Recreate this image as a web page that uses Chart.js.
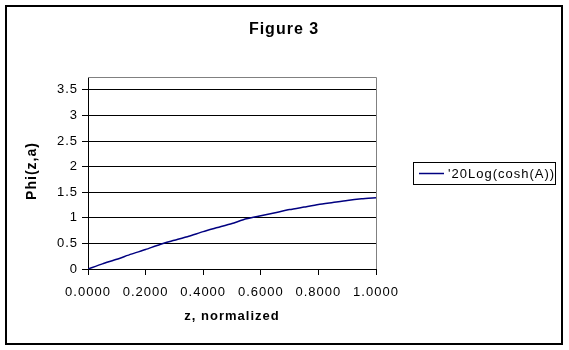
<!DOCTYPE html>
<html>
<head>
<meta charset="utf-8">
<title>Figure 3</title>
<script src="https://cdn.jsdelivr.net/npm/chart.js@4.4.1/dist/chart.umd.min.js"></script>
<style>
  body { margin: 0; background: #fff; }
  canvas { display: block; }
</style>
</head>
<body>
<canvas id="chart" width="569" height="350"></canvas>
<script>
// normalized position along z and the curve Phi(z,a)
const zValues = [0, 0.05, 0.10, 0.15, 0.20, 0.25, 0.30, 0.35, 0.40, 0.45, 0.50,
                 0.55, 0.60, 0.65, 0.70, 0.75, 0.80, 0.85, 0.90, 0.95, 1.00];
const phiValues = [0, 0.10, 0.19, 0.29, 0.38, 0.48, 0.56, 0.64, 0.73, 0.81, 0.89,
                   0.98, 1.04, 1.10, 1.16, 1.21, 1.26, 1.30, 1.34, 1.37, 1.39];
const yTicks = [0, 0.5, 1, 1.5, 2, 2.5, 3, 3.5];
const seriesName = "'20Log(cosh(A))";
const chartTitle = "Figure 3";
const xTitle = "z, normalized";
const yTitle = "Phi(z,a)";

const lineColor = "#000080";
const font = "Liberation Sans, Arial, sans-serif";

let points = zValues.map((z, i) => ({ x: z, y: phiValues[i] }));

// frame, titles, plot border and legend box
const decorations = {
    id: "decorations",
    beforeDraw(chart) {
        let ctx = chart.ctx;
        ctx.fillStyle = "#fff";
        ctx.fillRect(0, 0, chart.width, chart.height);
        ctx.letterSpacing = "1px";
    },
    afterDraw(chart) {
        let ctx = chart.ctx;
        let area = chart.chartArea;
        ctx.save();

        // gray plot area border on top and right
        ctx.strokeStyle = "#808080";
        ctx.lineWidth = 1;
        ctx.beginPath();
        ctx.moveTo(area.left, Math.round(area.top) + 0.5);
        ctx.lineTo(Math.round(area.right) + 0.5, Math.round(area.top) + 0.5);
        ctx.lineTo(Math.round(area.right) + 0.5, area.bottom);
        ctx.stroke();

        // outer chart border
        ctx.strokeStyle = "#000";
        ctx.lineWidth = 2;
        ctx.strokeRect(6, 6, 556, 338);

        ctx.fillStyle = "#000";
        ctx.textAlign = "center";
        ctx.textBaseline = "middle";

        ctx.letterSpacing = "1px";
        ctx.font = "bold 16px " + font;
        ctx.fillText(chartTitle, 284, 30);

        ctx.font = "bold 13px " + font;
        ctx.fillText(xTitle, (area.left + area.right) / 2, 316);

        ctx.save();
        ctx.translate(32, (area.top + area.bottom) / 2 - 2);
        ctx.rotate(-Math.PI / 2);
        ctx.font = "bold 14px " + font;
        ctx.fillText(yTitle, 0, 0);
        ctx.restore();

        // legend
        ctx.lineWidth = 1;
        ctx.strokeStyle = "#000";
        ctx.strokeRect(413.5, 162.5, 142, 22);
        ctx.strokeStyle = lineColor;
        ctx.lineWidth = 1.5;
        ctx.beginPath();
        ctx.moveTo(419, 173.5);
        ctx.lineTo(444, 173.5);
        ctx.stroke();
        ctx.textAlign = "left";
        ctx.font = "13px " + font;
        ctx.fillText(seriesName, 448, 174);

        ctx.restore();
        ctx.letterSpacing = "0px";
    }
};

new Chart(document.getElementById("chart"), {
    type: "line",
    data: {
        datasets: [{
            label: seriesName,
            data: points,
            borderColor: lineColor,
            borderWidth: 1.5,
            pointRadius: 0,
            tension: 0.2,
            fill: false
        }]
    },
    options: {
        responsive: false,
        devicePixelRatio: 1,
        animation: false,
        layout: { padding: { top: 77, right: 193, left: 0, bottom: 0 } },
        plugins: {
            legend: { display: false },
            tooltip: { enabled: false }
        },
        scales: {
            x: {
                type: "linear",
                min: 0,
                max: 1,
                afterFit(scale) { scale.height = 81; },
                ticks: {
                    stepSize: 0.2,
                    padding: 10,
                    color: "#000",
                    font: { family: font, size: 13 },
                    maxRotation: 0,
                    callback: v => Number(v).toFixed(4)
                },
                grid: {
                    drawOnChartArea: false,
                    color: "#000",
                    tickLength: 6
                },
                border: { color: "#000", width: 1 }
            },
            y: {
                min: 0,
                max: 3.75,
                afterFit(scale) { scale.width = 88; },
                afterBuildTicks(scale) {
                    scale.ticks = yTicks.map(v => ({ value: v }));
                },
                ticks: {
                    padding: 4,
                    color: "#000",
                    font: { family: font, size: 13 },
                    callback: v => String(v)
                },
                grid: {
                    color: "#000",
                    tickLength: 6
                },
                border: { color: "#000", width: 1 }
            }
        }
    },
    plugins: [decorations]
});
</script>
</body>
</html>
